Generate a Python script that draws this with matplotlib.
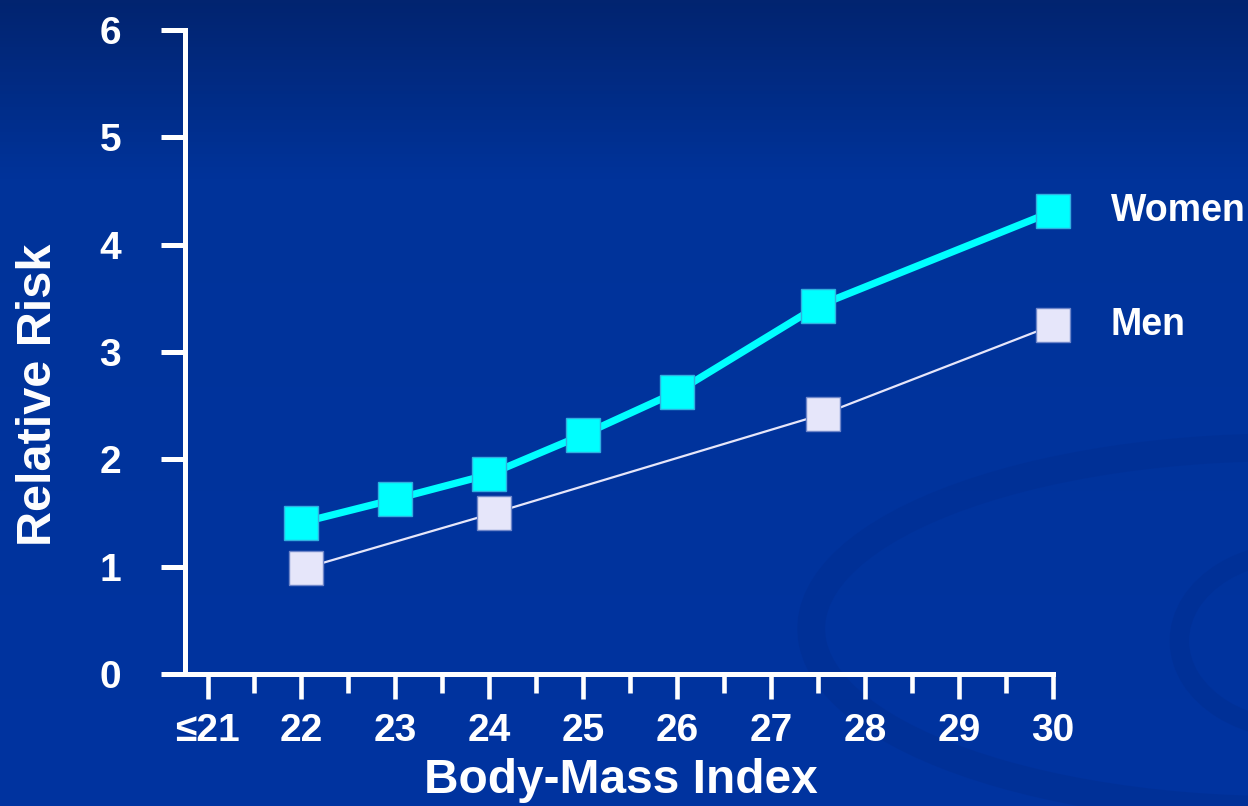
import numpy as np
import matplotlib
matplotlib.use("Agg")
import matplotlib.pyplot as plt
from matplotlib.patches import Arc
from matplotlib.colors import LinearSegmentedColormap

plt.rcParams['font.family'] = ['Liberation Sans', 'DejaVu Sans']
plt.rcParams['font.weight'] = 'bold'

# data
women_bmi = [22, 23, 24, 25, 26, 27.5, 30]
women_rr = [1.41, 1.63, 1.86, 2.23, 2.63, 3.43, 4.31]
men_bmi = [22.05, 24.05, 27.55, 30]
men_rr = [0.99, 1.50, 2.42, 3.25]

xticks = [21, 22, 23, 24, 25, 26, 27, 28, 29, 30]
xticklabels = ["≤21", "22", "23", "24", "25", "26", "27", "28", "29", "30"]
yticks = [0, 1, 2, 3, 4, 5, 6]

fig = plt.figure(figsize=(12.48, 8.06), dpi=100)

# background gradient + faint swirl
bg = fig.add_axes([0, 0, 1, 1], zorder=-10)
grad = np.linspace(0, 1, 256).reshape(-1, 1)
cmap = LinearSegmentedColormap.from_list(
    "bg", [(0, "#022470"), (0.22, "#00339a"), (1, "#0033a0")])
bg.imshow(grad, aspect="auto", cmap=cmap, extent=[0, 1, 0, 1], origin="upper")
bg.set_xlim(0, 1)
bg.set_ylim(0, 1)
swirl = "#002f94"
bg.add_patch(Arc((1.03, 0.22), 0.76, 0.45, theta1=85, theta2=290, lw=20, color=swirl, alpha=0.65))
bg.add_patch(Arc((1.04, 0.205), 0.19, 0.22, theta1=80, theta2=280, lw=14, color=swirl, alpha=0.65))
bg.axis("off")

ax = fig.add_axes([0.1482, 0.1638, 0.6956, 0.7990])
ax.set_facecolor("none")

ax.plot(women_bmi, women_rr, color="#00ffff", lw=5.2, marker="s", ms=24.5,
        mec="#2fb0e0", mew=1, clip_on=False, zorder=4, label="Women")
ax.plot(men_bmi, men_rr, color="#e6e6fa", lw=1.6, marker="s", ms=24.5,
        mec="#6f86c9", mew=1, clip_on=False, zorder=3, label="Men")

# series labels next to the last point
ax.annotate("Women", (women_bmi[-1], women_rr[-1]), xytext=(42, 0),
            textcoords="offset points", va="center", ha="left",
            color="white", fontsize=27, fontweight="bold", annotation_clip=False)
ax.annotate("Men", (men_bmi[-1], men_rr[-1]), xytext=(41, 0),
            textcoords="offset points", va="center", ha="left",
            color="white", fontsize=27, fontweight="bold", annotation_clip=False)

ax.set_xlim(20.76, 30)
ax.set_ylim(0, 6)
ax.set_xticks(xticks)
ax.set_xticklabels(xticklabels)
ax.set_xticks(np.arange(21.5, 30, 1), minor=True)
ax.set_yticks(yticks)

for s in ["top", "right"]:
    ax.spines[s].set_visible(False)
for s in ["left", "bottom"]:
    ax.spines[s].set_color("white")
    ax.spines[s].set_linewidth(3.6)
ax.spines["bottom"].set_bounds(20.76, 30)

ax.tick_params(axis="y", direction="out", length=17, width=3.6, color="white",
               labelcolor="white", labelsize=28, pad=29)
ax.tick_params(axis="x", which="major", direction="out", length=18, width=3.3,
               color="white", labelcolor="white", labelsize=28, pad=10)
ax.tick_params(axis="x", which="minor", direction="out", length=14, width=3.3,
               color="white")
for lab in ax.get_xticklabels() + ax.get_yticklabels():
    lab.set_fontweight("bold")

ax.set_xlabel("Body-Mass Index", color="white", fontsize=34.5, fontweight="bold")
ax.set_ylabel("Relative Risk", color="white", fontsize=35, fontweight="bold")
ax.xaxis.label.set_va("center")
ax.yaxis.label.set_va("center")
ax.xaxis.set_label_coords(0.502, -0.166)
ax.yaxis.set_label_coords(-0.169, 0.433)

fig.savefig("out.png", dpi=100)
